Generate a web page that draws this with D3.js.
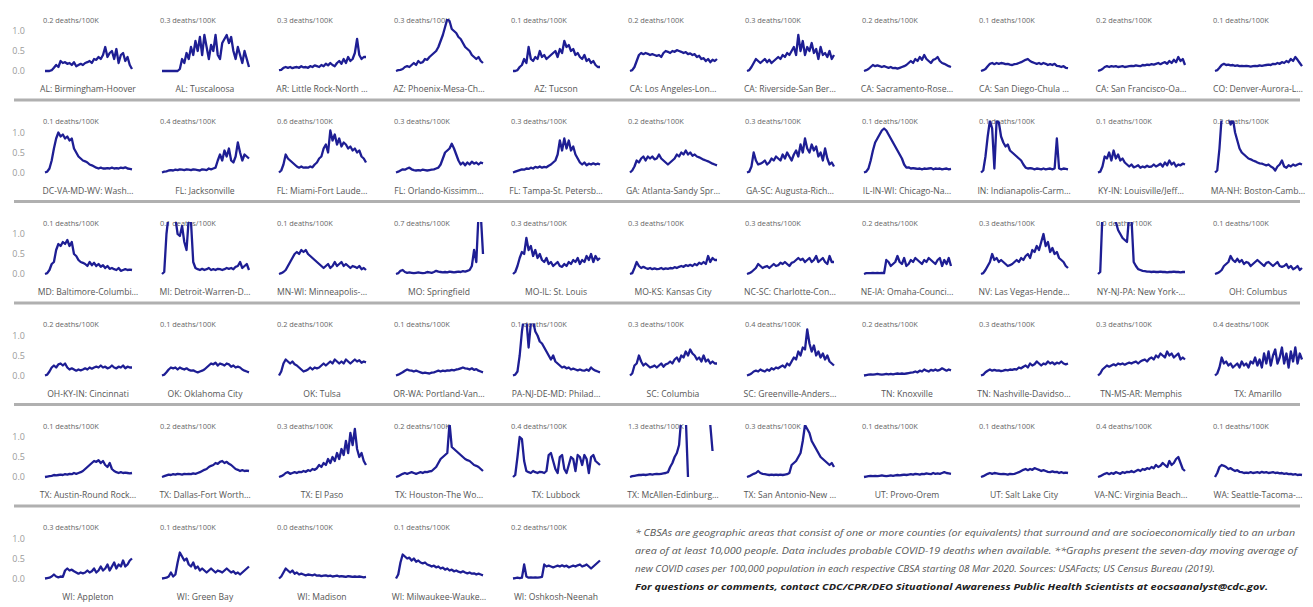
<!DOCTYPE html>
<html>
<head>
<meta charset="utf-8">
<script src="https://cdn.jsdelivr.net/npm/d3@7"></script>
<style>
  html, body { margin: 0; padding: 0; background: #fff; }
  svg { display: block; }
  .metro { font-family: "Open Sans", "DejaVu Sans", sans-serif; font-size: 8.6px; fill: #555; }
  .rate { font-family: "Open Sans", "DejaVu Sans", sans-serif; font-size: 7.4px; fill: #666; }
  .ytick text { font-family: "Open Sans", sans-serif; font-size: 9px; fill: #9a9a9a; }
  .note { font-family: "Open Sans", sans-serif; font-size: 9.4px; font-style: italic; fill: #555; }
  .note-bold { font-family: "Open Sans", sans-serif; font-size: 9.6px; font-style: italic; font-weight: 700; fill: #222; }
</style>
</head>
<body>
<svg id="chart" width="1313" height="607"></svg>
<script>
// Metro area (CBSA) names, in panel order
const metroNames = [
  "AL: Birmingham-Hoover", "AL: Tuscaloosa", "AR: Little Rock-North …", "AZ: Phoenix-Mesa-Ch…", "AZ: Tucson",
  "CA: Los Angeles-Lon…", "CA: Riverside-San Ber…", "CA: Sacramento-Rose…", "CA: San Diego-Chula …", "CA: San Francisco-Oa…", "CO: Denver-Aurora-L…",
  "DC-VA-MD-WV: Wash…", "FL: Jacksonville", "FL: Miami-Fort Laude…", "FL: Orlando-Kissimm…", "FL: Tampa-St. Petersb…",
  "GA: Atlanta-Sandy Spr…", "GA-SC: Augusta-Rich…", "IL-IN-WI: Chicago-Na…", "IN: Indianapolis-Carm…", "KY-IN: Louisville/Jeff…", "MA-NH: Boston-Camb…",
  "MD: Baltimore-Columbi…", "MI: Detroit-Warren-D…", "MN-WI: Minneapolis-…", "MO: Springfield", "MO-IL: St. Louis",
  "MO-KS: Kansas City", "NC-SC: Charlotte-Con…", "NE-IA: Omaha-Counci…", "NV: Las Vegas-Hende…", "NY-NJ-PA: New York-…", "OH: Columbus",
  "OH-KY-IN: Cincinnati", "OK: Oklahoma City", "OK: Tulsa", "OR-WA: Portland-Van…", "PA-NJ-DE-MD: Philad…",
  "SC: Columbia", "SC: Greenville-Anders…", "TN: Knoxville", "TN: Nashville-Davidso…", "TN-MS-AR: Memphis", "TX: Amarillo",
  "TX: Austin-Round Rock…", "TX: Dallas-Fort Worth…", "TX: El Paso", "TX: Houston-The Wo…", "TX: Lubbock",
  "TX: McAllen-Edinburg…", "TX: San Antonio-New …", "UT: Provo-Orem", "UT: Salt Lake City", "VA-NC: Virginia Beach…", "WA: Seattle-Tacoma-…",
  "WI: Appleton", "WI: Green Bay", "WI: Madison", "WI: Milwaukee-Wauke…", "WI: Oshkosh-Neenah"
];

// Latest daily death rate per 100K shown above each panel
const deathRates = [
  0.2, 0.3, 0.3, 0.3, 0.1, 0.2, 0.3, 0.2, 0.1, 0.2, 0.1,
  0.1, 0.4, 0.6, 0.3, 0.3, 0.2, 0.3, 0.1, 0.1, 0.1, 0.2,
  0.1, 0.1, 0.1, 0.7, 0.3, 0.3, 0.3, 0.2, 0.3, 0.0, 0.1,
  0.2, 0.1, 0.2, 0.1, 0.1, 0.3, 0.4, 0.2, 0.3, 0.3, 0.4,
  0.1, 0.2, 0.3, 0.2, 0.4, 1.3, 0.3, 0.1, 0.1, 0.4, 0.1,
  0.3, 0.1, 0.0, 0.1, 0.2
];

// Seven-day moving average of new deaths per 100K, one row per metro (null = no report)
const trendValues = [
  [0,0,0,0.02,0.08,0.15,0.1,0.25,0.2,0.22,0.18,0.2,0.15,0.22,0.12,0.15,0.18,0.15,0.2,0.22,0.25,0.2,0.3,0.28,0.35,0.3,0.4,0.6,0.35,0.45,0.5,0.3,0.55,0.2,0.4,0.45,0.25,0.35,0.15,0.05],
  [0,0,0,0,0,0,0,0,0.05,0.3,0.2,0.45,0.3,0.6,0.4,0.75,0.5,0.85,0.4,0.9,0.6,0.3,0.65,0.5,0.9,0.4,0.3,0.7,0.8,0.9,0.7,0.85,0.5,0.3,0.6,0.4,0.2,0.5,0.3,0.1],
  [0.02,0.03,0.08,0.1,0.08,0.1,0.07,0.09,0.1,0.08,0.12,0.09,0.1,0.08,0.12,0.1,0.14,0.12,0.1,0.15,0.12,0.18,0.14,0.2,0.15,0.12,0.2,0.25,0.18,0.3,0.2,0.35,0.25,0.3,0.45,0.8,0.4,0.3,0.35,0.35],
  [0,0.02,0.03,0.05,0.1,0.12,0.1,0.15,0.2,0.15,0.25,0.2,0.22,0.3,0.28,0.35,0.4,0.45,0.5,0.6,0.75,0.9,1.1,1.3,1.25,1.05,1.0,0.95,0.85,0.8,0.7,0.6,0.55,0.5,0.4,0.35,0.3,0.35,0.25,0.2],
  [0,0,0.02,0.1,0.15,0.3,0.2,0.6,0.3,0.25,0.35,0.3,0.5,0.35,0.4,0.3,0.35,0.4,0.45,0.5,0.35,0.55,0.45,0.75,0.6,0.65,0.5,0.55,0.4,0.45,0.35,0.3,0.4,0.25,0.3,0.2,0.25,0.15,0.1,0.1],
  [0,0.02,0.1,0.25,0.4,0.45,0.42,0.45,0.43,0.4,0.42,0.4,0.38,0.4,0.35,0.45,0.5,0.48,0.45,0.5,0.48,0.52,0.5,0.48,0.45,0.47,0.42,0.44,0.4,0.42,0.35,0.38,0.3,0.32,0.25,0.3,0.22,0.28,0.25,0.3],
  [0,0.02,0.1,0.2,0.3,0.25,0.2,0.25,0.3,0.22,0.28,0.2,0.25,0.3,0.35,0.3,0.4,0.35,0.45,0.4,0.5,0.6,0.4,0.9,0.5,0.75,0.4,0.6,0.5,0.7,0.45,0.55,0.3,0.6,0.4,0.45,0.35,0.5,0.3,0.4],
  [0,0.02,0.05,0.1,0.15,0.12,0.14,0.12,0.1,0.12,0.1,0.08,0.1,0.07,0.08,0.06,0.08,0.1,0.12,0.15,0.2,0.25,0.2,0.3,0.25,0.35,0.28,0.4,0.3,0.25,0.2,0.28,0.3,0.35,0.25,0.2,0.18,0.15,0.12,0.1],
  [0,0.02,0.05,0.12,0.18,0.2,0.17,0.2,0.18,0.2,0.19,0.17,0.18,0.16,0.15,0.17,0.18,0.2,0.22,0.25,0.28,0.3,0.25,0.22,0.2,0.18,0.2,0.17,0.2,0.18,0.15,0.17,0.15,0.18,0.13,0.12,0.1,0.12,0.08,0.07],
  [0,0.02,0.05,0.1,0.12,0.1,0.12,0.11,0.12,0.1,0.11,0.12,0.1,0.11,0.12,0.13,0.12,0.14,0.13,0.12,0.15,0.14,0.16,0.15,0.17,0.16,0.18,0.2,0.17,0.2,0.22,0.18,0.25,0.2,0.28,0.22,0.35,0.25,0.3,0.15],
  [0,0.02,0.08,0.15,0.18,0.15,0.16,0.14,0.15,0.13,0.14,0.12,0.13,0.12,0.13,0.12,0.11,0.12,0.13,0.12,0.14,0.13,0.14,0.15,0.16,0.15,0.18,0.17,0.2,0.18,0.22,0.2,0.25,0.22,0.3,0.25,0.35,0.28,0.2,0.12],
  [0,0.02,0.1,0.3,0.6,0.85,1.0,0.9,0.95,0.85,0.9,0.8,0.85,0.6,0.5,0.4,0.35,0.3,0.28,0.25,0.2,0.18,0.15,0.12,0.1,0.12,0.1,0.1,0.11,0.1,0.12,0.1,0.11,0.1,0.12,0.11,0.13,0.1,0.09,0.08],
  [0,0.02,0.03,0.05,0.06,0.05,0.07,0.06,0.08,0.07,0.06,0.08,0.07,0.06,0.08,0.07,0.06,0.05,0.08,0.07,0.06,0.1,0.08,0.1,0.12,0.3,0.45,0.3,0.55,0.4,0.6,0.3,0.25,0.4,0.75,0.5,0.3,0.45,0.4,0.35],
  [0,0.05,0.2,0.45,0.35,0.3,0.25,0.2,0.15,0.12,0.15,0.12,0.13,0.12,0.15,0.13,0.2,0.25,0.35,0.4,0.6,0.7,0.5,1.05,0.8,0.95,0.7,0.85,0.65,0.75,0.7,0.6,0.65,0.55,0.6,0.5,0.55,0.4,0.35,0.25],
  [0,0.02,0.05,0.08,0.07,0.1,0.12,0.08,0.06,0.05,0.06,0.05,0.07,0.06,0.05,0.06,0.07,0.08,0.1,0.12,0.2,0.35,0.5,0.55,0.6,0.72,0.6,0.45,0.3,0.2,0.25,0.18,0.25,0.2,0.27,0.22,0.25,0.2,0.25,0.23],
  [0,0.02,0.04,0.06,0.08,0.07,0.1,0.09,0.12,0.1,0.14,0.12,0.15,0.12,0.14,0.13,0.17,0.2,0.25,0.3,0.45,0.8,0.55,0.85,0.6,0.8,0.55,0.65,0.45,0.35,0.25,0.2,0.25,0.18,0.22,0.2,0.23,0.2,0.22,0.2],
  [0,0.05,0.15,0.3,0.25,0.35,0.4,0.3,0.4,0.35,0.4,0.33,0.35,0.45,0.35,0.3,0.25,0.2,0.25,0.3,0.35,0.45,0.4,0.5,0.45,0.55,0.45,0.5,0.42,0.45,0.4,0.38,0.35,0.32,0.3,0.28,0.25,0.22,0.2,0.18],
  [0,0.02,0.15,0.5,0.3,0.2,0.22,0.25,0.3,0.2,0.25,0.35,0.3,0.4,0.35,0.3,0.45,0.35,0.5,0.4,0.3,0.45,0.55,0.4,0.7,0.5,0.85,0.6,0.5,0.7,0.55,0.65,0.4,0.5,0.3,0.6,0.35,0.2,0.25,0.15],
  [0,0.02,0.1,0.3,0.55,0.75,0.85,0.95,1.05,1.1,1.05,0.95,0.85,0.75,0.65,0.55,0.45,0.35,0.2,0.12,0.13,0.1,0.11,0.1,0.09,0.1,0.08,0.1,0.09,0.1,0.11,0.08,0.1,0.09,0.1,0.08,0.09,0.1,0.08,0.09],
  [0,0.05,0.4,0.9,1.3,1.1,0.1,1.3,1.25,0.9,0.75,0.65,0.7,0.55,0.5,0.45,0.4,0.35,0.3,0.2,0.12,0.1,0.11,0.1,0.08,0.1,0.09,0.08,0.1,0.08,0.09,0.1,0.08,0.1,0.85,0.1,0.08,0.1,0.09,0.08],
  [0,0.02,0.15,0.4,0.35,0.5,0.3,0.55,0.35,0.45,0.3,0.35,0.25,0.2,0.15,0.2,0.13,0.15,0.18,0.12,0.15,0.13,0.17,0.14,0.15,0.2,0.15,0.18,0.22,0.15,0.25,0.18,0.3,0.2,0.25,0.15,0.2,0.18,0.22,0.2],
  [0,0.05,0.6,1.4,1.5,1.45,1.4,1.2,1.35,1.0,0.8,0.6,0.5,0.45,0.4,0.35,0.33,0.3,0.28,0.25,0.23,0.22,0.2,0.18,0.2,0.15,0.12,0.05,0.15,0.2,0.3,0.15,0.12,0.18,0.15,0.2,0.17,0.2,0.22,0.2],
  [0,0.02,0.1,0.25,0.3,0.6,0.75,0.7,0.8,0.75,0.85,0.7,0.8,0.5,0.45,0.35,0.3,0.28,0.25,0.2,0.3,0.22,0.28,0.2,0.25,0.18,0.22,0.15,0.2,0.13,0.15,0.12,0.1,0.15,0.08,0.1,0.12,0.1,0.11,0.1],
  [0,0.05,1.0,1.5,1.5,1.45,1.4,1.0,0.95,1.2,0.8,0.6,1.4,1.3,0.3,0.15,0.12,0.1,0.13,0.1,0.12,0.15,0.1,0.12,0.1,0.13,0.12,0.1,0.12,0.15,0.13,0.15,0.12,0.18,0.2,0.3,0.15,0.2,0.25,0.1],
  [0,0.02,0.05,0.1,0.2,0.3,0.4,0.5,0.55,0.5,0.6,0.55,0.6,0.5,0.45,0.4,0.35,0.3,0.25,0.2,0.15,0.2,0.25,0.15,0.2,0.3,0.2,0.25,0.3,0.2,0.25,0.2,0.15,0.2,0.18,0.15,0.2,0.12,0.15,0.1],
  [0,0.02,0.08,0.1,0.05,0.03,0.04,0.03,0.02,0.03,0.04,0.03,0.02,0.03,0.05,0.04,0.03,0.05,0.08,0.06,0.05,0.04,0.05,0.04,0.06,0.05,0.04,0.05,0.06,0.05,0.07,0.06,0.08,0.1,0.2,0.6,0.3,1.5,1.5,0.5],
  [0,0.05,0.2,0.4,0.55,0.5,0.9,0.6,0.7,0.45,0.6,0.4,0.5,0.35,0.3,0.4,0.25,0.3,0.2,0.25,0.3,0.2,0.18,0.25,0.2,0.3,0.25,0.35,0.3,0.4,0.25,0.35,0.3,0.45,0.35,0.5,0.3,0.45,0.35,0.4],
  [0,0.02,0.15,0.3,0.2,0.15,0.18,0.15,0.13,0.15,0.12,0.14,0.12,0.13,0.15,0.12,0.14,0.13,0.15,0.14,0.17,0.15,0.18,0.2,0.18,0.22,0.2,0.23,0.2,0.25,0.22,0.28,0.25,0.3,0.25,0.45,0.3,0.4,0.35,0.35],
  [0,0.02,0.05,0.1,0.15,0.25,0.2,0.15,0.18,0.2,0.15,0.2,0.25,0.2,0.22,0.28,0.25,0.3,0.25,0.2,0.28,0.3,0.35,0.4,0.35,0.38,0.3,0.35,0.4,0.3,0.35,0.45,0.3,0.35,0.4,0.3,0.25,0.45,0.3,0.3],
  [0,0.02,0.02,0.02,0.03,0.02,0.03,0.02,0.03,0.02,0.35,0.3,0.2,0.25,0.3,0.45,0.3,0.25,0.4,0.2,0.25,0.35,0.3,0.4,0.35,0.3,0.25,0.35,0.3,0.4,0.35,0.3,0.25,0.35,0.4,0.2,0.35,0.25,0.4,0.2],
  [0,0.02,0.1,0.2,0.3,0.5,0.35,0.4,0.3,0.35,0.3,0.25,0.2,0.22,0.25,0.3,0.35,0.3,0.4,0.35,0.45,0.5,0.4,0.6,0.55,0.7,0.6,0.8,1.0,0.7,0.8,0.55,0.65,0.5,0.55,0.4,0.35,0.3,0.2,0.15],
  [0,0.05,1.5,1.6,1.6,1.6,1.5,1.4,1.3,1.1,1.0,0.9,0.85,0.8,1.5,1.4,0.3,0.2,0.12,0.1,0.08,0.07,0.06,0.06,0.05,0.06,0.05,0.05,0.06,0.05,0.05,0.04,0.05,0.05,0.06,0.05,0.05,0.04,0.05,0.05],
  [0,0.02,0.05,0.1,0.2,0.25,0.3,0.45,0.35,0.3,0.38,0.3,0.35,0.25,0.3,0.28,0.2,0.25,0.3,0.35,0.3,0.25,0.2,0.28,0.3,0.25,0.2,0.25,0.3,0.2,0.18,0.2,0.25,0.15,0.2,0.12,0.15,0.2,0.1,0.15],
  [0,0.02,0.1,0.2,0.25,0.2,0.28,0.3,0.25,0.3,0.2,0.15,0.18,0.15,0.12,0.15,0.13,0.15,0.18,0.15,0.2,0.17,0.2,0.22,0.2,0.25,0.2,0.22,0.18,0.2,0.25,0.2,0.18,0.22,0.2,0.25,0.18,0.22,0.2,0.2],
  [0,0.02,0.08,0.15,0.2,0.18,0.2,0.15,0.2,0.17,0.15,0.18,0.14,0.12,0.13,0.1,0.08,0.1,0.12,0.15,0.2,0.25,0.3,0.28,0.32,0.25,0.3,0.28,0.25,0.3,0.28,0.22,0.25,0.2,0.22,0.2,0.15,0.12,0.1,0.08],
  [0,0.1,0.3,0.4,0.35,0.3,0.35,0.28,0.25,0.2,0.15,0.1,0.12,0.15,0.2,0.15,0.2,0.18,0.2,0.25,0.3,0.25,0.3,0.35,0.3,0.4,0.35,0.3,0.35,0.3,0.4,0.35,0.3,0.35,0.4,0.35,0.38,0.32,0.35,0.33],
  [0,0.02,0.05,0.08,0.12,0.15,0.13,0.12,0.1,0.12,0.1,0.08,0.06,0.07,0.06,0.05,0.07,0.08,0.1,0.12,0.1,0.12,0.11,0.13,0.12,0.14,0.13,0.15,0.16,0.18,0.2,0.18,0.17,0.15,0.18,0.14,0.16,0.12,0.1,0.08],
  [0,0.02,0.1,0.5,1.1,1.5,1.4,0.7,1.3,1.35,1.1,1.0,0.85,0.8,0.7,0.6,0.5,0.4,0.5,0.35,0.3,0.25,0.2,0.22,0.18,0.2,0.15,0.17,0.15,0.13,0.15,0.13,0.12,0.15,0.12,0.2,0.15,0.12,0.1,0.08],
  [0,0.05,0.25,0.3,0.5,0.35,0.25,0.3,0.25,0.2,0.22,0.25,0.2,0.25,0.3,0.22,0.28,0.3,0.35,0.3,0.4,0.45,0.35,0.5,0.45,0.6,0.5,0.65,0.55,0.5,0.4,0.45,0.35,0.5,0.35,0.4,0.3,0.35,0.3,0.3],
  [0,0.02,0.05,0.1,0.12,0.1,0.15,0.12,0.1,0.15,0.12,0.18,0.15,0.2,0.18,0.22,0.25,0.2,0.3,0.25,0.35,0.45,0.4,0.6,0.5,0.7,0.65,1.15,0.8,0.6,0.75,0.5,0.6,0.45,0.55,0.4,0.5,0.35,0.3,0.25],
  [0,0.01,0.02,0.03,0.02,0.03,0.04,0.03,0.02,0.03,0.04,0.03,0.04,0.03,0.04,0.05,0.04,0.05,0.04,0.05,0.06,0.07,0.08,0.1,0.08,0.12,0.1,0.15,0.12,0.1,0.14,0.12,0.15,0.12,0.14,0.18,0.15,0.12,0.15,0.13],
  [0,0.02,0.08,0.12,0.15,0.12,0.14,0.12,0.13,0.11,0.12,0.14,0.13,0.15,0.14,0.16,0.15,0.2,0.18,0.22,0.25,0.2,0.3,0.25,0.28,0.35,0.3,0.25,0.3,0.28,0.35,0.3,0.33,0.28,0.32,0.3,0.35,0.3,0.28,0.3],
  [0,0.05,0.15,0.2,0.25,0.22,0.25,0.28,0.25,0.3,0.28,0.3,0.27,0.3,0.32,0.3,0.33,0.35,0.3,0.35,0.38,0.4,0.35,0.42,0.45,0.4,0.5,0.45,0.55,0.5,0.45,0.6,0.5,0.55,0.45,0.5,0.55,0.4,0.45,0.4],
  [0,0.05,0.2,0.45,0.3,0.35,0.25,0.3,0.2,0.25,0.3,0.2,0.35,0.25,0.3,0.2,0.35,0.3,0.45,0.25,0.4,0.2,0.55,0.3,0.6,0.25,0.5,0.65,0.3,0.45,0.7,0.3,0.55,0.2,0.6,0.35,0.7,0.3,0.55,0.4],
  [0,0.01,0.02,0.03,0.05,0.04,0.05,0.06,0.05,0.07,0.06,0.08,0.07,0.1,0.08,0.1,0.12,0.15,0.2,0.25,0.3,0.35,0.4,0.38,0.42,0.35,0.4,0.3,0.25,0.35,0.2,0.15,0.12,0.1,0.12,0.1,0.11,0.1,0.09,0.1],
  [0,0.02,0.04,0.06,0.05,0.07,0.06,0.08,0.07,0.06,0.08,0.07,0.08,0.07,0.09,0.08,0.1,0.12,0.15,0.18,0.2,0.25,0.28,0.3,0.35,0.33,0.38,0.4,0.35,0.38,0.33,0.3,0.25,0.2,0.18,0.15,0.17,0.15,0.16,0.15],
  [0,0.02,0.05,0.1,0.12,0.08,0.1,0.12,0.1,0.13,0.12,0.15,0.13,0.17,0.15,0.2,0.18,0.22,0.3,0.25,0.35,0.3,0.45,0.35,0.5,0.4,0.6,0.45,0.7,0.55,0.9,0.6,1.1,0.8,1.2,0.7,0.5,0.6,0.4,0.3],
  [0,0.02,0.05,0.08,0.1,0.08,0.1,0.12,0.1,0.08,0.1,0.12,0.1,0.13,0.12,0.14,0.15,0.2,0.25,0.35,0.45,0.5,0.55,0.6,1.35,0.75,0.7,0.65,0.6,0.55,0.5,0.45,0.42,0.4,0.35,0.3,0.28,0.25,0.2,0.15],
  [0,0.05,0.5,1.0,0.95,0.4,0.15,0.12,0.1,0.15,0.12,0.1,0.13,0.12,0.1,0.15,0.55,0.6,0.4,0.2,0.1,0.5,0.55,0.2,0.1,0.3,0.5,0.45,0.15,0.55,0.5,0.3,0.55,0.45,0.1,0.5,0.55,0.4,0.35,0.3],
  [0,0.02,0.03,0.04,0.05,0.05,0.06,0.05,0.06,0.07,0.06,0.07,0.08,0.07,0.08,0.09,0.1,0.12,0.25,0.35,0.5,0.6,0.8,1.5,1.5,1.5,0.0,null,null,null,null,null,null,null,null,null,1.3,0.65,null,null],
  [0,0.02,0.05,0.08,0.1,0.15,0.1,0.08,0.07,0.06,0.05,0.06,0.05,0.06,0.05,0.06,0.05,0.06,0.07,0.1,0.3,0.35,0.4,0.5,0.6,0.9,1.3,1.2,1.1,0.9,0.8,0.7,0.6,0.5,0.45,0.4,0.35,0.3,0.35,0.25],
  [0,0.01,0.02,0.03,0.02,0.03,0.02,0.03,0.04,0.03,0.02,0.03,0.04,0.03,0.04,0.05,0.04,0.05,0.06,0.05,0.06,0.07,0.06,0.08,0.07,0.06,0.08,0.07,0.09,0.08,0.07,0.1,0.08,0.09,0.08,0.1,0.12,0.1,0.09,0.08],
  [0,0.02,0.05,0.08,0.1,0.08,0.1,0.09,0.08,0.07,0.08,0.07,0.06,0.08,0.07,0.08,0.1,0.12,0.15,0.18,0.2,0.17,0.2,0.18,0.22,0.2,0.18,0.15,0.17,0.15,0.13,0.12,0.14,0.12,0.13,0.1,0.12,0.1,0.11,0.1],
  [0,0.02,0.05,0.08,0.1,0.07,0.1,0.08,0.12,0.1,0.08,0.12,0.1,0.13,0.12,0.15,0.12,0.15,0.18,0.15,0.2,0.18,0.22,0.2,0.25,0.22,0.3,0.25,0.28,0.35,0.3,0.25,0.4,0.3,0.35,0.45,0.5,0.35,0.2,0.15],
  [0,0.1,0.25,0.3,0.28,0.25,0.2,0.22,0.18,0.15,0.17,0.13,0.12,0.1,0.11,0.1,0.12,0.1,0.11,0.12,0.1,0.13,0.11,0.12,0.1,0.11,0.12,0.1,0.11,0.09,0.1,0.08,0.09,0.07,0.08,0.06,0.07,0.05,0.06,0.05],
  [0,0.01,0.02,0.05,0.1,0.05,0.03,0.05,0.04,0.2,0.25,0.2,0.22,0.18,0.15,0.12,0.15,0.13,0.15,0.2,0.15,0.18,0.25,0.15,0.2,0.3,0.2,0.25,0.35,0.2,0.3,0.4,0.25,0.35,0.3,0.45,0.3,0.35,0.45,0.5],
  [0,0.01,0.02,0.05,0.15,0.05,0.1,0.4,0.65,0.55,0.45,0.5,0.35,0.3,0.4,0.25,0.3,0.2,0.25,0.2,0.15,0.2,0.25,0.2,0.15,0.2,0.18,0.15,0.2,0.25,0.2,0.15,0.18,0.12,0.15,0.1,0.15,0.2,0.25,0.3],
  [0,0.05,0.15,0.25,0.2,0.15,0.2,0.12,0.15,0.1,0.12,0.1,0.08,0.1,0.09,0.08,0.1,0.07,0.08,0.06,0.07,0.08,0.06,0.07,0.05,0.06,0.07,0.05,0.06,0.05,0.04,0.06,0.05,0.04,0.05,0.04,0.05,0.04,0.03,0.04],
  [0,0.1,0.4,0.6,0.55,0.5,0.52,0.45,0.5,0.42,0.45,0.4,0.38,0.4,0.35,0.33,0.3,0.32,0.28,0.3,0.25,0.27,0.22,0.25,0.2,0.22,0.18,0.2,0.17,0.15,0.18,0.15,0.13,0.15,0.12,0.13,0.1,0.12,0.1,0.08],
  [0,0.01,0.02,0.01,0.02,0.35,0.05,0.02,0.03,0.02,0.03,0.02,0.03,0.04,0.35,0.3,0.32,0.3,0.28,0.3,0.32,0.3,0.33,0.3,0.32,0.28,0.3,0.32,0.3,0.33,0.35,0.3,0.32,0.35,0.3,0.25,0.3,0.35,0.4,0.45]
];

// Y-axis tick values
const yTicks = [0, 0.5, 1.0];

// Footnote lines
const noteLines = [
  "* CBSAs are geographic areas that consist of one or more counties (or equivalents) that surround and are socioeconomically tied to an urban",
  "area of at least 10,000 people. Data includes probable COVID-19 deaths when available. **Graphs present the seven-day moving average of",
  "new COVID cases per 100,000 population in each respective CBSA starting 08 Mar 2020. Sources: USAFacts; US Census Bureau (2019)."
];
const contactLine = "For questions or comments, contact CDC/CPR/DEO Situational Awareness Public Health Scientists at eocsaanalyst@cdc.gov.";

// ---- layout ----
const svg = d3.select("#chart");
const nCols = 11;
const colPitch = 117;
const firstCenter = 88;
const rowPitch = 101.5;
const lineColor = "#1e1e94";

const defs = svg.append("defs");

// row separators
const nRows = Math.ceil(metroNames.length / nCols);
for (let r = 0; r < nRows - 1; r++) {
  const y = r * rowPitch + 100;
  svg.append("line")
    .attr("x1", 14).attr("x2", 1300)
    .attr("y1", y).attr("y2", y)
    .attr("stroke", "#b0b0b0").attr("stroke-width", 2.8);
}

metroNames.forEach((name, i) => {
  const r = Math.floor(i / nCols);
  const c = i % nCols;
  const top = r * rowPitch;
  const cx = firstCenter + c * colPitch;
  const values = trendValues[i];

  const x = d3.scaleLinear().domain([0, values.length - 1]).range([cx - 43, cx + 44]);
  const y = d3.scaleLinear().domain([0, 1]).range([top + 71, top + 31]);

  const g = svg.append("g");

  if (c === 0) {
    const axis = d3.axisLeft(y).tickValues(yTicks).tickSize(0).tickPadding(0)
      .tickFormat(d3.format(".1f"));
    const ax = g.append("g").attr("class", "ytick")
      .attr("transform", "translate(25,0)").call(axis);
    ax.select(".domain").remove();
  }

  g.append("text").attr("class", "rate")
    .attr("x", cx - 45).attr("y", top + 22.5)
    .text(d3.format(".1f")(deathRates[i]) + " deaths/100K");

  g.append("text").attr("class", "metro")
    .attr("x", cx).attr("y", top + 92)
    .attr("text-anchor", "middle")
    .text(name);

  const clipId = "clip" + i;
  defs.append("clipPath").attr("id", clipId)
    .append("rect")
    .attr("x", cx - 48).attr("y", top + 19)
    .attr("width", 97).attr("height", 60);

  const line = d3.line()
    .defined(d => d != null)
    .x((d, k) => x(k))
    .y(d => y(d))
    .curve(d3.curveLinear);

  g.append("path")
    .attr("clip-path", `url(#${clipId})`)
    .attr("d", line(values))
    .attr("fill", "none")
    .attr("stroke", lineColor)
    .attr("stroke-width", 2.3)
    .attr("stroke-linejoin", "round");
});

// footnote
const noteWidths = [660, 662, 580];
noteLines.forEach((t, k) => {
  svg.append("text").attr("class", "note")
    .attr("x", 635).attr("y", 536 + k * 18)
    .attr("textLength", noteWidths[k]).attr("lengthAdjust", "spacingAndGlyphs")
    .text(t);
});
svg.append("text").attr("class", "note-bold")
  .attr("x", 635).attr("y", 590)
  .attr("textLength", 633).attr("lengthAdjust", "spacingAndGlyphs")
  .text(contactLine);
</script>
</body>
</html>
